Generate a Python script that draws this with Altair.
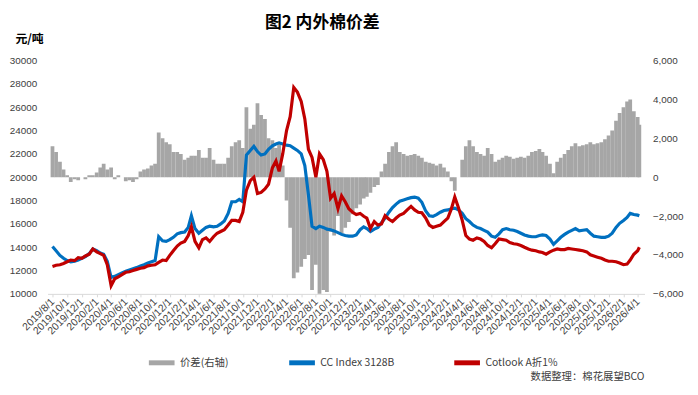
import altair as alt
import pandas as pd

# ---- dates: 1st and 16th of each month, 2019/8/1 .. 2026/4/1, plus last day 2026/4/8
dates = []
for m in range(81):
    y = 2019 + (7 + m) // 12
    mo = (7 + m) % 12 + 1
    dates.append(f"{y}-{mo:02d}-01")
    if m < 80:
        dates.append(f"{y}-{mo:02d}-16")
dates.append("2026-04-08")

# CC Index 3128B (元/吨)
cc = [14060, 13700, 13300, 13050, 12850, 12750, 12800, 12900, 13050, 13200, 13450, 13850, 13700, 13500, 13400, 12800, 11400, 11500, 11650, 11800,
      11950, 12050, 12150, 12250, 12400, 12500, 12650, 12750, 12850, 14900, 14550, 14500, 14650, 14850, 15150, 15250, 15300, 15700, 16700, 15600,
      15200, 15450, 15700, 15800, 15750, 15800, 16000, 16250, 16900, 17900, 17900, 18100, 17900, 21900, 22300, 22650, 22200, 21900, 22000, 22400,
      22700, 22850, 22950, 22850, 22750, 22700, 22500, 22300, 22000, 21000, 18500, 15800, 15600, 15800, 15700, 15550, 15500, 15400, 15250, 15100,
      15000, 14950, 14950, 15050, 15500, 15750, 15600, 15350, 15550, 15700, 16100, 16500, 17000, 17400, 17700, 17950, 18050, 18150, 18250, 18300,
      18200, 17850, 17100, 16700, 16650, 16800, 17000, 17150, 17200, 17300, 17350, 17200, 16900, 16450, 16200, 15900, 15700, 15600, 15450, 15300,
      14950, 14850, 15150, 15500, 15600, 15500, 15450, 15350, 15200, 15050, 14950, 14900, 14900, 15000, 15050, 15000, 14700, 14250, 14550, 14850,
      15100, 15300, 15450, 15600, 15400, 15450, 15500, 15200, 14950, 14900, 14850, 14850, 14950, 15200, 15700, 16050, 16300, 16550, 16900, 16800,
      16750, 16700]

# Cotlook A 折1% (元/吨)
cot = [12350, 12450, 12500, 12600, 12750, 12900, 12850, 13100, 13050, 13250, 13400, 13850, 13600, 13450, 13300, 12500, 10700, 11300, 11450, 11650,
       11850, 11900, 12000, 12100, 12200, 12250, 12400, 12450, 12500, 12700, 12900, 12850, 13300, 13700, 14100, 14350, 14500, 15000, 15750, 14500,
       13950, 14650, 14800, 14500, 14900, 15200, 15350, 15500, 15900, 16300, 16300, 16200, 17000, 18900, 19700, 20000, 18600, 18700, 19000, 19400,
       20800, 21400, 20500, 22000, 24000, 25200, 27700, 27300, 26500, 25000, 22400, 21700, 20000, 22000, 21500, 20500, 18200, 18600, 17300, 18400,
       17900, 17300, 17000, 16800, 16900, 16650, 16500, 15600, 16200, 15900, 16000, 16700, 16400, 16200, 16500, 16750, 16900, 17200, 17500, 17200,
       17000, 16950, 16500, 15900, 15700, 15800, 15900, 16200, 16500, 17300, 18300, 17400, 16300, 15000, 14700, 14600, 14800, 14700, 14500, 14150,
       13950, 14300, 14700, 14650, 14600, 14400, 14300, 14250, 14150, 14000, 13850, 13750, 13700, 13600, 13550, 13400, 13600, 13750, 13850, 13800,
       13800, 13900, 13850, 13800, 13750, 13700, 13600, 13350, 13250, 13150, 13050, 12900, 12800, 12800, 12750, 12650, 12500, 12550, 12900, 13400,
       13700, 14000]

# 价差 (右轴)
spread = [1600, 1300, 800, 400, 100, -250, -100, -150, 0, -100, 100, 100, 250, 500, 700, 400, 500, -100, 100, 0,
          -200, -150, -250, -100, 300, 400, 450, 600, 700, 2300, 2000, 1800, 1700, 1300, 1300, 1200, 900, 1000, 1100, 1100,
          1400, 1000, 1000, 1500, 900, 700, 700, 700, 1000, 1600, 1800, 1900, 1500, 3600, 2500, 2700, 3800, 3200, 3000, 2000,
          1900, 1500, 1800, 600, -1200, -2600, -5200, -4900, -4600, -4200, -4000, -5800, -4500, -6300, -5800, -5900, -2800, -3000, -2000, -2900,
          -2600, -2300, -1900, -1600, -1400, -1100, -1000, -800, -500, -400, 300, 700, 1300, 1600, 1800, 1300, 1200, 1100, 1150, 1200,
          1100, 1000, 800, 750, 700, 600, 700, 500, 300, -200, -700, 0, 900, 1600, 1900, 1600, 1300, 1200, 1100, 1500,
          1200, 800, 900, 1000, 1100, 1050, 950, 1000, 1050, 1000, 1100, 1300, 1350, 1450, 1300, 1100, 700, 200, 800, 1000,
          1200, 1400, 1600, 1750, 1600, 1650, 1700, 1800, 1700, 1750, 1800, 1950, 2150, 2400, 2900, 3300, 3600, 3900, 4000, 3400,
          3100, 2700]

series_names = ["价差(右轴)", "CC Index 3128B", "Cotlook A折1%"]
series_colors = ["#A6A6A6", "#0070C0", "#C00000"]

left_ticks = list(range(10000, 30001, 2000))
right_ticks = list(range(-6000, 6001, 2000))
tick_months = [(2019 + (7 + m) // 12, (7 + m) % 12 + 1) for m in range(0, 81, 2)]

df = pd.DataFrame({"date": dates, "cc": cc, "cot": cot, "spread": spread})
lines = pd.concat([
    pd.DataFrame({"date": dates, "price": cc, "series": series_names[1]}),
    pd.DataFrame({"date": dates, "price": cot, "series": series_names[2]}),
])
note = pd.DataFrame({"t": ["数据整理：棉花展望BCO"]})

num_font = "Liberation Sans"
cjk_font = "Noto Sans CJK SC"

x_enc = alt.X(
    "date:T",
    scale=alt.Scale(type="utc",
                    domain=[alt.DateTime(year=2019, month=8, date=1, utc=True),
                            alt.DateTime(year=2026, month=4, date=9, utc=True)]),
    axis=alt.Axis(
        values=[alt.DateTime(year=y, month=mo, date=1, utc=True) for y, mo in tick_months],
        format="%Y/%-m/%-d", labelAngle=-45, labelAlign="right", labelBaseline="middle",
        labelOverlap=False, labelFlush=False, labelPadding=3, labelFont=num_font, labelFontSize=10.5,
        labelColor="#404040", domainColor="#D9D9D9", tickColor="#D9D9D9", tickSize=3,
        grid=False, title=None),
)

bars = alt.Chart(df).mark_bar(color="#A6A6A6", size=3.8, clip=True).encode(
    x=x_enc,
    y=alt.Y("spread:Q", scale=alt.Scale(domain=[-6000, 6000], nice=False),
            axis=alt.Axis(orient="right", values=right_ticks, format=",d", grid=False, domain=False,
                          ticks=False, labelPadding=8, labelFont=num_font, labelFontSize=10,
                          labelColor="#404040", title=None)),
)

line = alt.Chart(lines).mark_line(strokeWidth=3.2, clip=True).encode(
    x=x_enc,
    y=alt.Y("price:Q", scale=alt.Scale(domain=[10000, 30000], nice=False),
            axis=alt.Axis(orient="left", values=left_ticks, format="d", grid=False, domain=False,
                          ticks=False, labelPadding=11, labelFont=num_font, labelFontSize=10,
                          labelColor="#404040", title="元/吨", titleAngle=0, titleAlign="left",
                          titleBaseline="middle", titleX=-33, titleY=-22, titleFont=cjk_font,
                          titleFontSize=12, titleFontWeight="bold", titleColor="#000000")),
    color=alt.Color("series:N", scale=alt.Scale(domain=series_names, range=series_colors),
                    legend=alt.Legend(orient="none", legendX=100, legendY=290, direction="horizontal",
                                      title=None, symbolType="stroke", symbolSize=676,
                                      symbolStrokeWidth=5, labelFont=cjk_font, labelFontSize=10.5,
                                      labelColor="#404040", columnPadding=50, labelOffset=3)),
    order=alt.Order("date:T"),
)

src = alt.Chart(note).mark_text(align="right", baseline="middle", font=cjk_font, fontSize=10.5,
                                color="#404040").encode(
    text="t:N", x=alt.value(604), y=alt.value(320))

chart = alt.layer(bars, line, src).resolve_scale(y="independent").properties(
    width=604, height=236,
    padding={"left": 40, "top": 51, "right": 46, "bottom": 92},
    autosize=alt.AutoSizeParams(type="none"),
    background="white",
    title=alt.TitleParams("图2 内外棉价差", anchor="middle", frame="group", dx=-24, offset=1,
                          font=cjk_font, fontSize=17, fontWeight="bold", color="#000000"),
).configure_view(stroke=None)

chart.save("out.html", embed_options={"renderer": "svg", "actions": False})
